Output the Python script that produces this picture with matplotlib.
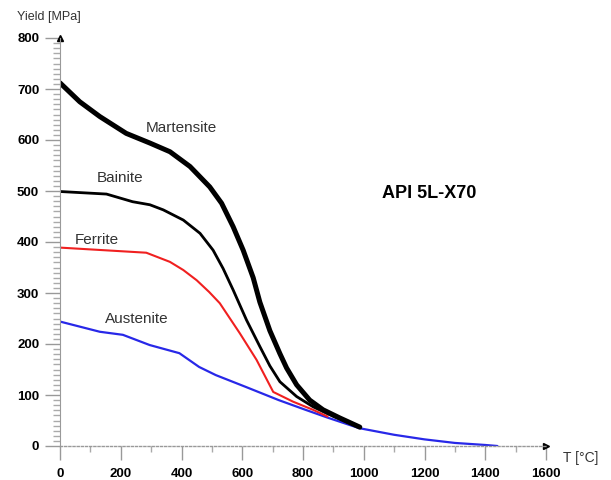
import numpy as np
import matplotlib
matplotlib.use("Agg")
from matplotlib import pyplot as plt
from matplotlib.ticker import MultipleLocator

# yield strength vs temperature, per phase
mart_T = [0, 65, 131, 218, 296, 362, 428, 493, 532, 570, 603, 636, 658, 691, 724, 746, 779, 822, 866, 921, 987]
mart_Y = [712, 675, 646, 613, 594, 577, 548, 508, 476, 430, 384, 330, 282, 226, 181, 153, 120, 90, 71, 55, 37]

bain_T = [0, 153, 239, 296, 340, 406, 461, 504, 537, 570, 614, 658, 691, 724, 779, 833, 900, 987]
bain_Y = [499, 494, 479, 473, 463, 443, 417, 384, 348, 306, 247, 195, 157, 126, 97, 77, 58, 37]

ferr_T = [0, 284, 362, 406, 450, 491, 526, 592, 647, 702, 767, 833, 880]
ferr_Y = [389, 379, 361, 345, 325, 302, 280, 221, 169, 106, 87, 71, 58]

aust_T = [0, 131, 207, 295, 393, 458, 513, 611, 720, 808, 884, 985, 1100, 1200, 1300, 1400, 1440]
aust_Y = [244, 224, 218, 198, 182, 155, 139, 116, 90, 71, 55, 35, 22, 13, 6, 2, 0]

labels = {"Martensite": (401, 624), "Bainite": (197, 525),
          "Ferrite": (122, 404), "Austenite": (253, 249)}

plt.rcParams['font.family'] = ['Liberation Sans', 'DejaVu Sans']

fig = plt.figure(figsize=(6.11, 4.8), dpi=100)
ax = fig.add_axes([60/611., 34/480., 486/611., 408/480.])

ax.plot(aust_T, aust_Y, color='#2828e8', lw=1.6, solid_capstyle='round')
ax.plot(ferr_T, ferr_Y, color='#f02020', lw=1.5)
ax.plot(bain_T, bain_Y, color='black', lw=2.0)
ax.plot(mart_T, mart_Y, color='black', lw=3.6, solid_capstyle='round', solid_joinstyle='round')

for name, (tx, ty) in labels.items():
    ax.text(tx, ty, name, ha='center', va='center', fontsize=11, color='#333333')
ax.text(1217, 496, "API 5L-X70", ha='center', va='center', fontsize=13,
        fontweight='bold', color='black')

ax.set_xlim(0, 1600)
ax.set_ylim(0, 800)
ax.xaxis.set_major_locator(MultipleLocator(200))
ax.xaxis.set_minor_locator(MultipleLocator(100))
ax.yaxis.set_major_locator(MultipleLocator(100))
ax.yaxis.set_minor_locator(MultipleLocator(10))

for s in ['top', 'right']:
    ax.spines[s].set_visible(False)
ax.spines['left'].set_color('#999999')
ax.spines['left'].set_linewidth(0.8)
ax.spines['bottom'].set_color('#999999')
ax.spines['bottom'].set_linestyle((0, (1.5, 1.5)))
ax.spines['bottom'].set_linewidth(1.0)

ax.tick_params(axis='y', which='major', length=11, width=1.0, color='#999999', pad=4)
ax.tick_params(axis='y', which='minor', length=5, width=1.0, color='#aaaaaa')
ax.tick_params(axis='x', which='major', length=10, width=1.0, color='#999999', pad=6)
ax.tick_params(axis='x', which='minor', length=4, width=1.0, color='#aaaaaa')
for lab in ax.get_xticklabels() + ax.get_yticklabels():
    lab.set_fontweight('bold')
    lab.set_fontsize(9.5)

# axis arrows
ax.plot([0], [1], marker='^', color='black', ms=4, transform=ax.transAxes, clip_on=False)
ax.plot([1], [0], marker='>', color='black', ms=4, transform=ax.transAxes, clip_on=False)

fig.text(17/611., 1 - 17/480., "Yield [MPa]", ha='left', va='center', fontsize=9, color='#333333')
fig.text(563/611., 1 - 458/480., "T [°C]", ha='left', va='center', fontsize=10, color='#333333')

fig.savefig("out.png", dpi=100, facecolor='white')
